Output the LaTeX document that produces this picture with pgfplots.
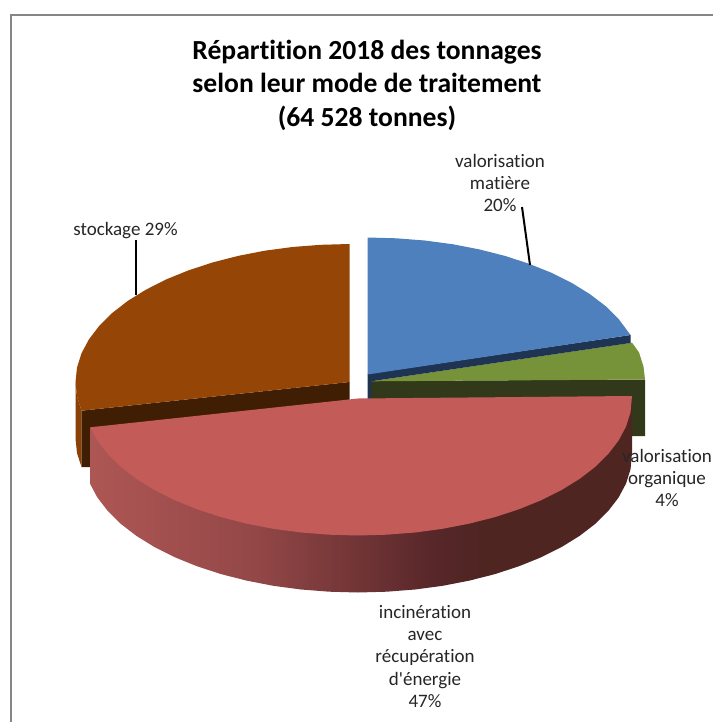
\documentclass[border=0pt]{standalone}
\usepackage{pgfplots}
\pgfplotsset{compat=1.18}
\usepackage{fontspec}
\newfontfamily\cf[Ligatures=NoCommon]{Carlito}
\definecolor{cblue}{HTML}{4D80BC}
\definecolor{cblued}{HTML}{1F3352}
\definecolor{cgreen}{HTML}{779339}
\definecolor{cgreend}{HTML}{31391A}
\definecolor{cbrown}{HTML}{954606}
\definecolor{cbrownm}{HTML}{8A4105}
\definecolor{cbrownd}{HTML}{3F1E03}
\definecolor{cred}{HTML}{C35B58}
\definecolor{frame}{HTML}{868686}
\pgfdeclarehorizontalshading{redside}{100bp}{rgb(0bp)=(.68,.34,.33); rgb(25bp)=(.68,.34,.33); rgb(40bp)=(.58,.28,.28); rgb(57bp)=(.34,.15,.16); rgb(61bp)=(.31,.145,.135); rgb(100bp)=(.31,.145,.135)}
\begin{document}
\begin{tikzpicture}
\begin{axis}[scale only axis,width=713pt,height=722pt,xmin=0,xmax=713,ymin=0,ymax=722,y dir=reverse,hide axis,clip=true]
% background
\addplot[fill=white,draw=none] coordinates {(0,0)(713,0)(713,722)(0,722)} -- cycle;
% frame
\addplot[frame,line width=2.2pt] coordinates {(11.2,722)(11.2,15.1)(713,15.1)};
% brown outer side
\addplot[fill=cbrownm,draw=none] coordinates {(75.5,382)(77,396.4)(81.5,410.7)(81.5,467)(77,453)(75.5,438.5)} -- cycle;
% brown cut side
\addplot[fill=cbrownd,draw=none] coordinates {(349.5,382)(81.5,410.7)(81.5,467)(349.5,467)} -- cycle;
% brown top
\addplot[fill=cbrown,draw=none] coordinates {(349.5,382)(349.5,244)(320.9,244.8)(292.5,247)(264.8,250.7)(238.1,255.9)(212.5,262.5)(188.4,270.4)(166.2,279.4)(145.9,289.7)(127.8,300.9)(112.2,313)(99.2,325.9)(88.9,339.4)(81.5,353.3)(77,367.6)(75.5,382)(77,396.4)(81.5,410.7)} -- cycle;
% green side
\addplot[fill=cgreend,draw=none] coordinates {(371,381)(645,379.5)(645,436)(371,436)} -- cycle;
% green top
\addplot[fill=cgreen,draw=none] coordinates {(371,381.3)(632,342.7)(639,352.4)(643.5,366.6)(645,379.5)} -- cycle;
% blue side
\addplot[fill=cblued,draw=none] coordinates {(367.5,374)(630.5,335)(630.5,343)(371,381.3)(371,400)(367.5,400)} -- cycle;
% blue top
\addplot[fill=cblue,draw=none] coordinates {(367.5,374.5)(367.5,237.5)(396.2,238.3)(424.7,240.5)(452.5,244.2)(479.3,249.4)(505,255.9)(529.1,263.8)(551.5,272.8)(571.9,283)(590,294.2)(605.7,306.2)(618.7,319.1)(630.5,335)} -- cycle;
% red side
\addplot[shading=redside,draw=none] coordinates {(90.3,427.3)(90.3,484.3)(97.4,497.5)(107.7,510.9)(120.7,523.8)(136.3,535.8)(154.4,547)(174.7,557.2)(196.9,566.2)(221,574.1)(246.6,580.6)(273.3,585.8)(301,589.5)(329.4,591.7)(358,592.5)(386.6,591.7)(415,589.5)(442.7,585.8)(469.4,580.6)(495,574.1)(519.1,566.2)(541.3,557.2)(561.6,547)(579.7,535.8)(595.3,523.8)(608.3,510.9)(618.6,497.5)(626,483.6)(630.5,469.4)(632,453)(632,396)} -- cycle;
% red top
\addplot[fill=cred,draw=none] coordinates {(358,398.5)(90.3,427.3)(97.4,440.5)(107.7,453.9)(120.7,466.8)(136.3,478.8)(154.4,490)(174.7,500.2)(196.9,509.2)(221,517.1)(246.6,523.6)(273.3,528.8)(301,532.5)(329.4,534.7)(358,535.5)(386.6,534.7)(415,532.5)(442.7,528.8)(469.4,523.6)(495,517.1)(519.1,509.2)(541.3,500.2)(561.6,490)(579.7,478.8)(595.3,466.8)(608.3,453.9)(618.6,440.5)(626,426.6)(630.5,412.4)(632,396)} -- cycle;
% leaders
\addplot[black,line width=2pt] coordinates {(522,207)(530,265)};
\addplot[black,line width=2pt] coordinates {(136,240)(136,295)};
% title
\node[font=\fontsize{27.6}{33.5}\cf\bfseries\selectfont,align=center,anchor=center] at (axis cs:367,85) {Répartition 2018 des tonnages\\selon leur mode de traitement\\(64 528 tonnes)};
% labels
\node[font=\fontsize{19}{22.4}\cf\selectfont,align=center,text=black!85] at (axis cs:500,183) {valorisation\\matière\\20\%};
\node[font=\fontsize{19}{22.4}\cf\selectfont,align=center,text=black!85] at (axis cs:125.5,230.5) {stockage 29\%};
\node[font=\fontsize{19}{22.4}\cf\selectfont,align=center,text=black!85] at (axis cs:667,478) {valorisation\\organique\\4\%};
\node[font=\fontsize{19}{22.4}\cf\selectfont,align=center,text=black!85] at (axis cs:425,656.5) {incinération\\avec\\récupération\\d'énergie\\47\%};
\end{axis}
\end{tikzpicture}
\end{document}
